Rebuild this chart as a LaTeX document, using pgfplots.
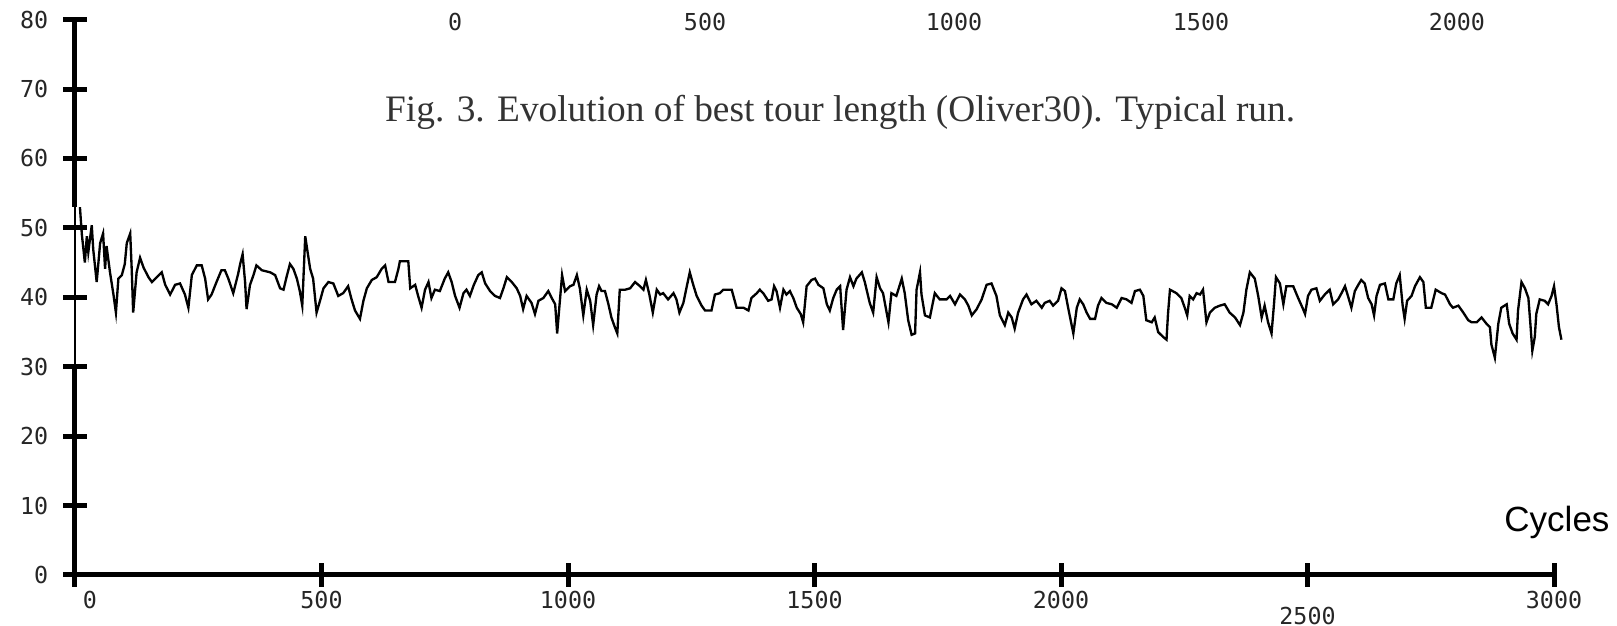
\documentclass[border=0pt]{standalone}
\usepackage{pgfplots}
\pgfplotsset{compat=1.18}
\usepackage{fontspec}
\setmainfont{Liberation Serif}
\newfontfamily\tickfont{DejaVu Sans Mono}
\newfontfamily\labfont{Liberation Sans}

\begin{document}
\begin{tikzpicture}
\begin{axis}[
    scale only axis,
    width=443.7pt, height=166.6pt,
    xmin=0, xmax=3000,
    ymin=0, ymax=80,
    clip=false,
    axis lines=left,
    axis line style={draw=none},
    xtick={0,500,1000,1500,2000,2500,3000},
    ytick={0,10,20,30,40,50,60,70,80},
    xticklabels={\hspace*{9pt}0,500,1000,1500,2000,\rule{0pt}{10pt}2500,3000},
    yticklabels={0,10,20,30,40,50,60,70,80},
    tick align=center,
    major tick length=7pt,
    tick style={line width=1.5pt, black},
    ticklabel style={font=\tickfont\fontsize{7}{8}\selectfont, text=black!85},
    xticklabel style={yshift=2.3pt},
    yticklabel style={xshift=-1pt},
]
% best tour length per cycle
\addplot[black, line width=0.7pt] coordinates {
(10,53.0) (14,49.0) (20,45.0) (24,48.8) (27,46.5) (34,50.4) (37,46.9) (44,42.2) (51,47.8) (57,49.2)
(61,44.1) (64,47.4) (71,43.6) (78,40.4) (83,37.8) (88,42.7) (95,43.2) (101,44.8) (105,47.8) (112,49.2)
(115,44.1) (118,37.8) (125,43.6) (132,45.7) (139,44.3) (149,42.9) (156,42.2) (166,42.9) (176,43.6) (183,41.8)
(193,40.4) (203,41.8) (213,42.0) (223,40.4) (230,38.5) (237,43.2) (247,44.6) (257,44.6) (264,42.7) (270,39.7)
(277,40.4) (287,42.2) (297,43.9) (304,43.9) (311,42.7) (321,40.6) (331,43.4) (335,44.8) (340,46.2) (345,42.2)
(348,38.3) (355,41.8) (362,43.2) (368,44.6) (379,43.9) (396,43.6) (406,43.2) (416,41.3) (423,41.1) (429,42.9)
(436,44.8) (443,44.1) (450,42.7) (456,40.9) (461,38.8) (467,48.8) (471,46.9) (477,44.1) (483,42.7) (490,37.8)
(497,39.5) (504,41.3) (514,42.2) (524,42.0) (534,40.2) (544,40.6) (554,41.6) (561,39.7) (568,38.1) (578,36.9)
(585,39.5) (592,41.3) (602,42.5) (612,42.9) (622,44.1) (629,44.6) (636,42.2) (649,42.2) (656,44.1) (659,45.2)
(676,45.2) (680,41.3) (690,41.8) (696,40.2) (703,38.5) (710,41.1) (717,42.2) (723,39.9) (730,41.1) (740,40.9)
(750,42.7) (757,43.6) (764,42.2) (771,40.2) (780,38.5) (788,40.6) (794,41.1) (801,40.2) (809,41.8) (818,43.2)
(825,43.6) (832,42.0) (842,40.9) (852,40.2) (862,39.9) (869,41.3) (876,42.9) (886,42.2) (896,41.3) (903,40.2)
(909,38.3) (916,40.2) (926,39.2) (933,37.6) (940,39.5) (950,39.9) (960,40.9) (967,39.9) (974,39.0) (978,34.8)
(984,39.9) (988,43.2) (994,40.9) (1004,41.6) (1011,41.8) (1018,43.2) (1024,41.3) (1031,37.4) (1038,41.1) (1045,39.5)
(1051,36.0) (1058,40.4) (1063,41.6) (1068,40.9) (1075,40.9) (1082,39.0) (1088,37.1) (1095,35.7) (1100,34.8) (1105,41.1)
(1116,41.1) (1126,41.3) (1136,42.2) (1146,41.6) (1153,41.1) (1158,42.5) (1165,40.4) (1172,37.8) (1180,41.1) (1187,40.4)
(1193,40.6) (1203,39.7) (1214,40.6) (1220,39.7) (1226,37.8) (1234,39.2) (1241,41.6) (1247,43.6) (1254,41.8) (1261,40.2)
(1271,38.8) (1278,38.1) (1291,38.1) (1298,40.4) (1308,40.6) (1315,41.1) (1332,41.1) (1342,38.5) (1356,38.5) (1366,38.1)
(1372,39.9) (1383,40.6) (1389,41.1) (1396,40.6) (1406,39.5) (1413,39.7) (1418,41.6) (1423,40.9) (1430,38.5) (1437,41.1)
(1443,40.4) (1450,40.9) (1457,39.9) (1464,38.5) (1472,37.6) (1477,36.4) (1484,41.6) (1494,42.5) (1501,42.7) (1508,41.8)
(1518,41.3) (1525,39.0) (1531,38.1) (1538,39.9) (1545,41.1) (1552,41.6) (1558,35.3) (1565,41.1) (1572,42.9) (1579,41.6)
(1585,42.7) (1596,43.6) (1602,42.2) (1612,39.2) (1619,37.8) (1626,42.9) (1633,41.3) (1639,40.6) (1650,36.4) (1656,40.6)
(1666,40.2) (1677,42.7) (1683,40.6) (1690,36.7) (1697,34.6) (1704,34.8) (1707,41.1) (1714,43.6) (1717,40.4) (1724,37.4)
(1734,37.1) (1744,40.6) (1754,39.7) (1768,39.7) (1775,40.2) (1785,39.0) (1795,40.4) (1805,39.7) (1812,38.8) (1819,37.4)
(1829,38.3) (1839,39.7) (1849,41.8) (1859,42.0) (1869,40.2) (1876,37.4) (1886,36.0) (1893,37.8) (1900,37.1) (1906,35.5)
(1913,37.8) (1923,39.7) (1930,40.4) (1940,39.0) (1950,39.5) (1961,38.5) (1967,39.2) (1977,39.5) (1984,38.8) (1994,39.5)
(2001,41.3) (2008,40.9) (2015,38.3) (2021,36.2) (2025,34.8) (2032,38.5) (2038,39.7) (2045,39.0) (2052,37.8) (2059,36.9)
(2069,36.9) (2075,38.8) (2082,39.9) (2092,39.2) (2103,39.0) (2113,38.5) (2123,39.9) (2133,39.7) (2143,39.2) (2150,40.9)
(2160,41.1) (2167,40.2) (2173,36.7) (2184,36.4) (2190,37.1) (2197,35.0) (2207,34.3) (2214,33.9) (2217,37.6) (2221,41.1)
(2234,40.6) (2244,39.9) (2251,38.5) (2256,37.4) (2261,40.2) (2268,39.7) (2275,40.6) (2282,40.4) (2288,41.1) (2295,36.4)
(2302,37.8) (2312,38.5) (2322,38.8) (2332,39.0) (2342,37.8) (2353,37.1) (2363,36.0) (2370,37.8) (2376,41.1) (2383,43.6)
(2393,42.7) (2400,40.2) (2407,37.1) (2413,38.8) (2420,36.4) (2427,34.8) (2432,39.0) (2436,42.9) (2444,42.0) (2451,39.0)
(2457,41.6) (2471,41.6) (2481,39.9) (2491,38.3) (2495,37.6) (2501,40.2) (2508,41.1) (2518,41.3) (2525,39.5) (2535,40.4)
(2545,41.1) (2552,39.0) (2562,39.7) (2569,40.6) (2576,41.6) (2582,40.2) (2589,38.5) (2596,40.9) (2603,41.8) (2609,42.5)
(2616,42.0) (2623,39.9) (2630,39.0) (2635,37.4) (2640,40.2) (2647,41.8) (2657,42.0) (2664,39.7) (2674,39.7) (2680,42.0)
(2687,43.2) (2693,38.8) (2697,36.9) (2702,39.5) (2711,40.2) (2718,41.6) (2728,42.9) (2735,42.2) (2740,38.5) (2751,38.5)
(2760,41.1) (2772,40.6) (2779,40.4) (2789,39.0) (2795,38.5) (2806,38.8) (2816,37.8) (2826,36.7) (2833,36.4) (2843,36.4)
(2853,37.1) (2863,36.2) (2870,35.7) (2873,33.2) (2880,31.3) (2887,36.2) (2893,38.5) (2904,39.0) (2909,36.2) (2916,34.8)
(2924,33.9) (2927,38.1) (2934,42.2) (2941,41.3) (2948,39.9) (2952,36.2) (2956,32.3) (2961,34.3) (2964,37.6) (2971,39.7)
(2981,39.5) (2988,39.0) (2995,40.2) (3000,41.6) (3005,39.0) (3010,35.7) (3015,33.9)
};

% axis lines (the y axis is thin between 30 and 53 in the scan)
\draw[line width=1.5pt] (axis cs:0,80) -- (axis cs:0,53);
\draw[line width=1.5pt] (axis cs:0,30) -- (axis cs:0,0) -- (axis cs:3000,0);
\draw[line width=0.6pt] (axis cs:0,53) -- (axis cs:0,30);

% stray scale along the top
\node[font=\tickfont\fontsize{7}{8}\selectfont, text=black!85] at (axis cs:771,79.6) {0};
\node[font=\tickfont\fontsize{7}{8}\selectfont, text=black!85] at (axis cs:1278,79.6) {500};
\node[font=\tickfont\fontsize{7}{8}\selectfont, text=black!85] at (axis cs:1783,79.6) {1000};
\node[font=\tickfont\fontsize{7}{8}\selectfont, text=black!85] at (axis cs:2284,79.6) {1500};
\node[font=\tickfont\fontsize{7}{8}\selectfont, text=black!85] at (axis cs:2803,79.6) {2000};

\node[font=\fontsize{11.2}{13}\selectfont, text=black!80] at (axis cs:1552,66.6)
  {Fig. 3. Evolution of best tour length (Oliver30). Typical run.};
\node[font=\labfont\fontsize{10.5}{12}\selectfont] at (axis cs:3006,7.6) {Cycles};
\end{axis}
\pgfresetboundingbox
\path ([shift={(-22.5pt,-15.3pt)}]current axis.south west) rectangle ([shift={(18.9pt,5.9pt)}]current axis.north east);
\end{tikzpicture}
\end{document}
